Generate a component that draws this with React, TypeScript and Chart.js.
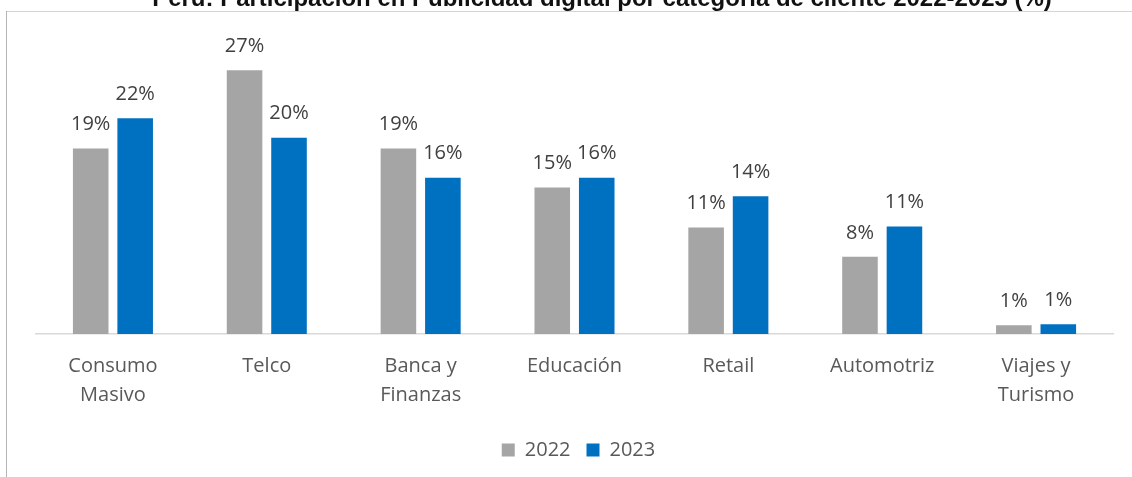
import React, { useEffect, useRef } from "react";
import { Chart, registerables } from "chart.js";

Chart.register(...registerables);

const categories: string[][] = [
  ["Consumo", "Masivo"],
  ["Telco"],
  ["Banca y", "Finanzas"],
  ["Educación"],
  ["Retail"],
  ["Automotriz"],
  ["Viajes y", "Turismo"],
];
const series2022: number[] = [19.0, 27.0, 19.0, 15.0, 10.9, 7.9, 0.9];
const series2023: number[] = [22.1, 20.1, 16.0, 16.0, 14.1, 11.0, 1.0];
const seriesNames: string[] = ["2022", "2023"];
const titleText = "Perú: Participación en Publicidad digital por categoría de cliente 2022-2023 (%)";

const FONT = "'Open Sans', 'Noto Sans', sans-serif";

const framePlugin = {
  id: "frame",
  afterLayout(chart: any) {
    if (chart.legend) {
      chart.legend.left += 4;
      chart.legend.right += 4;
    }
  },
  beforeDraw(chart: any) {
    const ctx = chart.ctx;
    ctx.save();
    ctx.fillStyle = "#ffffff";
    ctx.fillRect(0, 0, chart.width, chart.height);
    ctx.lineWidth = 1;
    ctx.strokeStyle = "#d4d4d4";
    ctx.beginPath();
    ctx.moveTo(6, 11.5);
    ctx.lineTo(chart.width, 11.5);
    ctx.stroke();
    ctx.strokeStyle = "#b4b4b4";
    ctx.beginPath();
    ctx.moveTo(6.5, 11);
    ctx.lineTo(6.5, chart.height);
    ctx.stroke();
    ctx.restore();
  },
  afterDraw(chart: any) {
    const ctx = chart.ctx;
    ctx.save();
    ctx.font = "bold 20px 'Liberation Sans', Arial, sans-serif";
    const w = ctx.measureText(titleText).width;
    const size = 20 * 900 / w;
    ctx.font = `bold ${size}px 'Liberation Sans', Arial, sans-serif`;
    ctx.fillStyle = "#111111";
    ctx.textAlign = "center";
    ctx.textBaseline = "alphabetic";
    ctx.fillText(titleText, 602, 6);
    ctx.restore();
  },
};

const valueLabelPlugin = {
  id: "valueLabels",
  afterDatasetsDraw(chart: any) {
    const ctx = chart.ctx;
    ctx.save();
    ctx.font = `20px ${FONT}`;
    ctx.fillStyle = "#404040";
    ctx.textAlign = "center";
    ctx.textBaseline = "middle";
    chart.data.datasets.forEach((ds: any, di: number) => {
      const meta = chart.getDatasetMeta(di);
      meta.data.forEach((bar: any, i: number) => {
        const v = ds.data[i];
        ctx.fillText(`${Math.round(v)}%`, bar.x, bar.y - 24);
      });
    });
    ctx.restore();
  },
};

export default function App() {
  const ref = useRef<HTMLCanvasElement | null>(null);
  useEffect(() => {
    if (!ref.current) return;
    const chart = new Chart(ref.current, {
      type: "bar",
      data: {
        labels: categories,
        datasets: [
          { label: seriesNames[0], data: series2022, backgroundColor: "#A5A5A5" },
          { label: seriesNames[1], data: series2023, backgroundColor: "#0070C0" },
        ],
      },
      options: {
        animation: false,
        responsive: false,
        devicePixelRatio: 1,
        layout: { padding: { left: 36, right: 19, top: 41, bottom: 7 } },
        datasets: { bar: { categoryPercentage: 0.578, barPercentage: 0.8 } },
        scales: {
          x: {
            grid: { display: false, drawTicks: false },
            border: { display: true, color: "#d9d9d9", width: 1.5 },
            ticks: {
              color: "#595959",
              font: { family: FONT, size: 20, lineHeight: 1.45 },
              padding: 18,
              maxRotation: 0,
              autoSkip: false,
            },
            afterFit(scale: any) {
              scale.height -= 4;
            },
          },
          y: { display: false, min: 0, max: 30 },
        },
        plugins: {
          legend: {
            position: "bottom",
            labels: {
              boxWidth: 13,
              boxHeight: 13,
              padding: 16,
              color: "#595959",
              font: { family: FONT, size: 20 },
            },
          },
          title: { display: false },
          tooltip: { enabled: false },
        },
      },
      plugins: [framePlugin, valueLabelPlugin],
    });
    return () => chart.destroy();
  }, []);
  return (
    <div style={{ position: "fixed", left: 0, top: 0, width: 1132, height: 477 }}>
      <canvas ref={ref} width={1132} height={477} style={{ display: "block" }} />
    </div>
  );
}
